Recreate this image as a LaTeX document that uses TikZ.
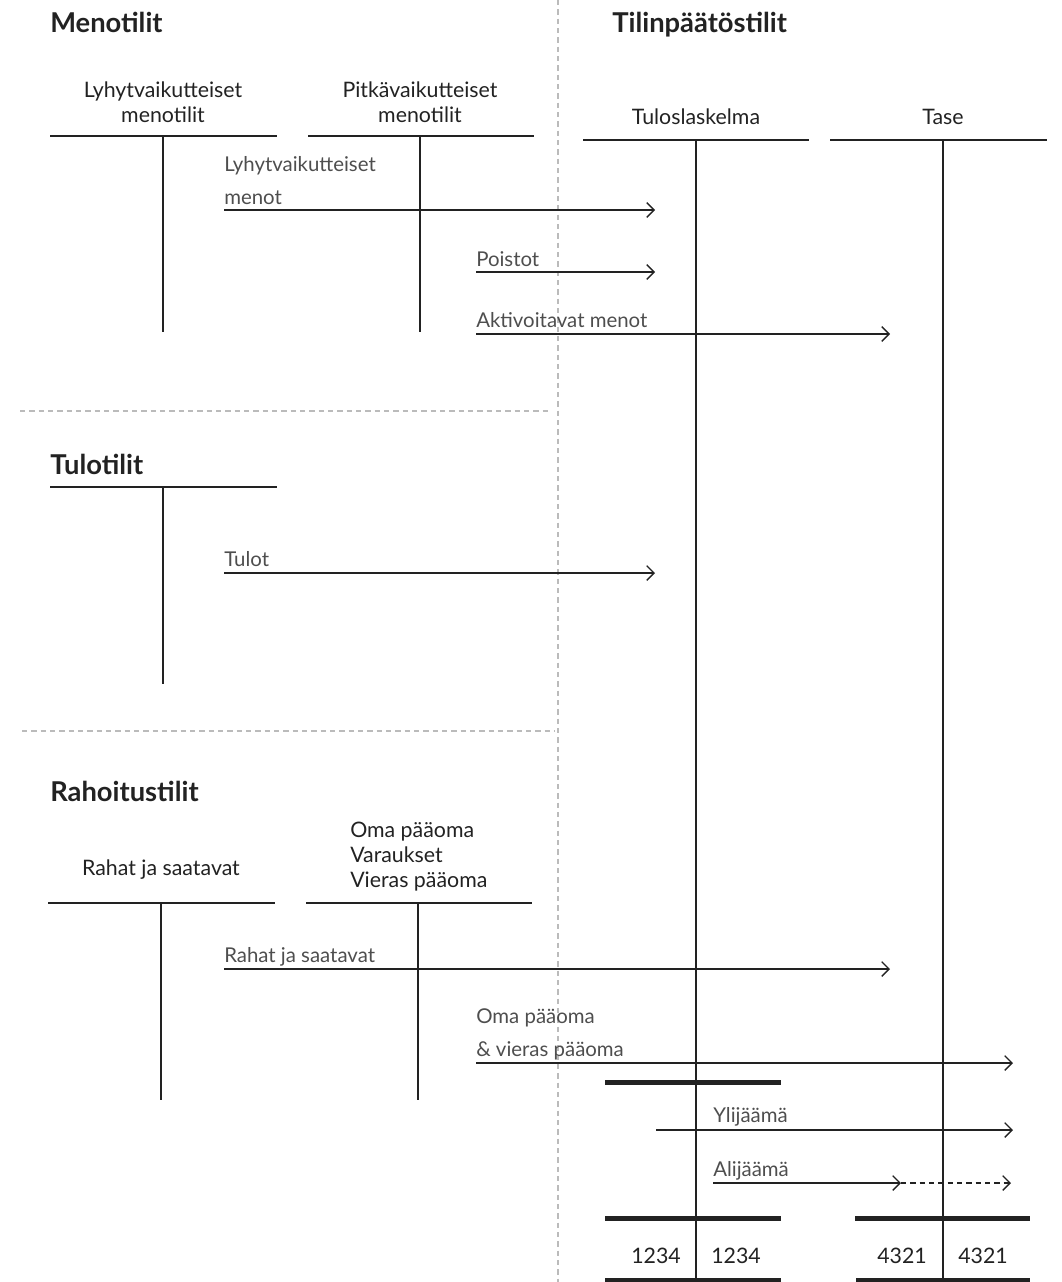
\documentclass[tikz,border=0pt]{standalone}
\usepackage{fontspec}
\setmainfont{Lato}
\usetikzlibrary{arrows.meta}
\definecolor{ink}{HTML}{222222}
\definecolor{sepgray}{HTML}{BBBBBB}

\begin{document}
\begin{tikzpicture}[x=0.75pt,y=-0.75pt,
	every node/.style={text=ink,inner sep=0pt,text depth=0pt},
	heading/.style={anchor=south west,font=\fontsize{20.5}{24}\selectfont\bfseries},
	acctitle/.style={anchor=south,align=center,font=\fontsize{16}{18.75}\selectfont},
	flowlbl/.style={anchor=south west,align=left,text=ink!80,font=\fontsize{15.3}{25}\selectfont},
	acc/.style={draw=ink,line width=1.5pt},
	bar/.style={draw=ink,line width=3.75pt},
	flow/.style={draw=ink,line width=1pt,-{Straight Barb[length=5.5pt,width=11pt]}},
	sep/.style={draw=sepgray,line width=1pt,dash pattern=on 4pt off 3pt}]
	\useasboundingbox (0,0) rectangle (1061,1282);
	
	% separators
	\draw[sep] (558,0) -- (558,1282);
	\draw[sep] (20,411) -- (550,411);
	\draw[sep] (22,731) -- (555,731);
	
	% headings
	\node[heading] (hmeno) at (50,33) {Menotilit};
	\node[heading] (htp) at (612,33) {Tilinpäätöstilit};
	\node[heading] (htulo) at (50,475) {Tulotilit};
	\node[heading] (hraha) at (50,802) {Rahoitustilit};
	
	% menotilit
	\node[acctitle] (lyhyt) at (163,123) {Lyhytvaikutteiset\\menotilit};
	\draw[acc] (50,136) -- (277,136); \draw[acc] (163,136) -- (163,332);
	\node[acctitle] (pitka) at (420,123) {Pitkävaikutteiset\\menotilit};
	\draw[acc] (308,136) -- (534,136); \draw[acc] (420,136) -- (420,332);
	
	% tilinpäätöstilit
	\node[acctitle] (tulos) at (696,125) {Tuloslaskelma};
	\draw[acc] (583,140) -- (809,140); \draw[acc] (696,140) -- (696,1282);
	\node[acctitle] (tase) at (943,125) {Tase};
	\draw[acc] (830,140) -- (1047,140); \draw[acc] (943,140) -- (943,1282);
	
	% tulotilit
	\draw[acc] (50,487) -- (277,487); \draw[acc] (163,487) -- (163,684);
	
	% rahoitustilit
	\node[acctitle] (rahat) at (161,876) {Rahat ja saatavat};
	\draw[acc] (48,903) -- (275,903); \draw[acc] (161,903) -- (161,1100);
	\node[acctitle,anchor=south west,align=left] (oma) at (350,888) {Oma pääoma\\Varaukset\\Vieras pääoma};
	\draw[acc] (306,903) -- (532,903); \draw[acc] (418,903) -- (418,1100);
	
	% siirrot
	\coordinate (a1) at (224,210); \coordinate (b1) at (655,210);
	\node[flowlbl] (l1) at (224,205) {Lyhytvaikutteiset\\menot};
	\draw[flow] (a1) -- (b1);
	\coordinate (a2) at (476,272); \coordinate (b2) at (655,272);
	\node[flowlbl] (l2) at (476,267) {Poistot};
	\draw[flow] (a2) -- (b2);
	\coordinate (a3) at (476,334); \coordinate (b3) at (890,334);
	\node[flowlbl] (l3) at (476,328) {Aktivoitavat menot};
	\draw[flow] (a3) -- (b3);
	\coordinate (a4) at (224,573); \coordinate (b4) at (655,573);
	\node[flowlbl] (l4) at (224,567) {Tulot};
	\draw[flow] (a4) -- (b4);
	\coordinate (a5) at (224,969); \coordinate (b5) at (890,969);
	\node[flowlbl] (l5) at (224,963) {Rahat ja saatavat};
	\draw[flow] (a5) -- (b5);
	\coordinate (a6) at (476,1063); \coordinate (b6) at (1013,1063);
	\node[flowlbl] (l6) at (476,1057) {Oma pääoma\\\& vieras pääoma};
	\draw[flow] (a6) -- (b6);
	
	% tulos
	\draw[bar] (605,1082) -- (781,1082);
	\coordinate (a7) at (656,1130); \coordinate (b7) at (1013,1130);
	\node[flowlbl] (l7) at (713,1123) {Ylijäämä};
	\draw[flow] (a7) -- (b7);
	\coordinate (a8) at (713,1183); \coordinate (m8) at (901,1183); \coordinate (b8) at (1011,1183);
	\node[flowlbl] (l8) at (713,1177) {Alijäämä};
	\draw[flow] (a8) -- (m8);
	\draw[flow,dash pattern=on 4pt off 3pt] (m8) -- (b8);
	
	% loppusummat
	\draw[bar] (605,1218) -- (781,1218); \draw[bar] (855,1218) -- (1030,1218);
	\node[acctitle] (s1) at (656,1264) {1234};
	\node[acctitle] (s2) at (736,1264) {1234};
	\node[acctitle] (s3) at (902,1264) {4321};
	\node[acctitle] (s4) at (983,1264) {4321};
	\draw[bar] (605,1280) -- (781,1280); \draw[bar] (856,1280) -- (1030,1280);
\end{tikzpicture}
\end{document}
